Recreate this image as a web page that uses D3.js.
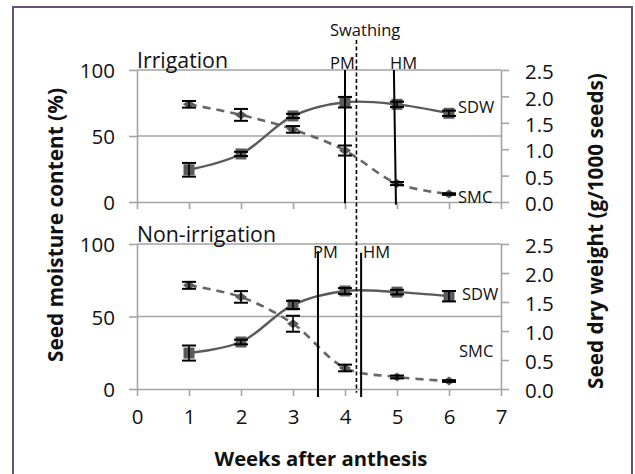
<!DOCTYPE html>
<html><head><meta charset="utf-8">
<script src="https://cdn.jsdelivr.net/npm/d3@7"></script>
<style>
html,body{margin:0;padding:0;background:#fff;}
svg{display:block;font-family:"Open Sans",sans-serif;}
</style></head>
<body><svg id="c" width="635" height="474"></svg>
<script>
// ---------- data ----------
const weeks = [1, 2, 3, 4, 5, 6];
const xTicks = [0, 1, 2, 3, 4, 5, 6, 7];
const leftTicks = [0, 50, 100];
const rightTicks = [0, 0.5, 1.0, 1.5, 2.0, 2.5];

const irrSMC    = [74, 66, 55, 39, 14, 6];
const irrSMCerr = [2.5, 4.5, 2.5, 3.8, 1.2, 0.6];
const irrSDW    = [0.61, 0.91, 1.63, 1.89, 1.85, 1.68];
const irrSDWerr = [0.13, 0.04, 0.04, 0.10, 0.05, 0.05];

const nonSMC    = [71.5, 63.5, 45, 14.5, 8.3, 5.5];
const nonSMCerr = [2.4, 4.0, 5.5, 2.3, 1.0, 0.6];
const nonSDW    = [0.62, 0.81, 1.45, 1.69, 1.67, 1.60];
const nonSDWerr = [0.13, 0.04, 0.07, 0.05, 0.04, 0.09];

const panelNames = ["Irrigation", "Non-irrigation"];
const irrPM = 4.0, irrHMtop = 4.94, irrHMbot = 4.98;
const nonPM = 3.48, nonHM = 4.31;
const swathing = 4.22;

// ---------- layout ----------
const svg = d3.select("#c");
const FONT = '"Open Sans", sans-serif';
const GRID = "#a3a3a3", SER = "#5a5a5a";

svg.append("rect").attr("x", 0).attr("y", 0).attr("width", 635).attr("height", 474).attr("fill", "#fff");
svg.append("rect").attr("x", 13).attr("y", 7).attr("width", 619).attr("height", 490)
  .attr("fill", "none").attr("stroke", "#62537a").attr("stroke-width", 2);

const x = d3.scaleLinear().domain([0, 7]).range([137, 501]);

function fit(sel, w) {
  let fs = parseFloat(sel.attr("font-size"));
  const len = sel.node().getComputedTextLength();
  sel.attr("font-size", (fs * w / len).toFixed(2));
  return sel;
}

const panels = [
  { name: panelNames[0], y0: 202, y1: 70, smc: irrSMC, smcE: irrSMCerr, sdw: irrSDW, sdwE: irrSDWerr, showX: false },
  { name: panelNames[1], y0: 389, y1: 244, smc: nonSMC, smcE: nonSMCerr, sdw: nonSDW, sdwE: nonSDWerr, showX: true }
];

panels.forEach(p => {
  const yL = d3.scaleLinear().domain([0, 100]).range([p.y0, p.y1]);
  const yR = d3.scaleLinear().domain([0, 2.5]).range([p.y0, p.y1]);
  p.yL = yL; p.yR = yR;
  const g = svg.append("g");

  g.selectAll(".grid").data([50, 100]).join("line")
    .attr("x1", x(0)).attr("x2", x(7)).attr("y1", d => yL(d)).attr("y2", d => yL(d))
    .attr("stroke", GRID).attr("stroke-width", 1.6);

  const ax = g.append("g").attr("transform", `translate(${x(0)},0)`)
    .call(d3.axisLeft(yL).tickValues(leftTicks).tickSize(8).tickSizeOuter(0).tickPadding(14));
  const ar = g.append("g").attr("transform", `translate(${x(7)},0)`)
    .call(d3.axisRight(yR).tickValues(rightTicks).tickSize(8).tickSizeOuter(0).tickPadding(16).tickFormat(d3.format(".1f")));
  const ab = g.append("g").attr("transform", `translate(0,${p.y0})`)
    .call(d3.axisBottom(x).tickValues(xTicks).tickSize(7).tickSizeOuter(0).tickPadding(16)
      .tickFormat(p.showX ? d3.format("d") : () => ""));
  [ax, ar, ab].forEach(a => {
    a.selectAll("path,line").attr("stroke", GRID).attr("stroke-width", 1.6);
    a.selectAll("text").attr("font-family", FONT).attr("font-size", 20.5).attr("fill", "#111");
  });
  ax.selectAll("text").attr("dy", "0.38em");
  ar.selectAll("text").attr("dy", "0.42em");
  ab.selectAll("text").attr("dy", "0.6em");

  const pts = weeks.map((w, i) => [x(w), yL(p.smc[i])]);
  g.append("path").attr("d", d3.line().curve(d3.curveCatmullRom.alpha(0.5))(pts))
    .attr("fill", "none").attr("stroke", "#666").attr("stroke-width", 2.6).attr("stroke-dasharray", "8,6");
  const pts2 = weeks.map((w, i) => [x(w), yR(p.sdw[i])]);
  g.append("path").attr("d", d3.line().curve(d3.curveCatmullRom.alpha(0.5))(pts2))
    .attr("fill", "none").attr("stroke", SER).attr("stroke-width", 2.4);

  g.selectAll(".dia").data(weeks).join("path")
    .attr("d", (w, i) => { const cx = x(w), cy = yL(p.smc[i]); return `M${cx - 6},${cy}L${cx},${cy - 4.5}L${cx + 6},${cy}L${cx},${cy + 4.5}Z`; })
    .attr("fill", SER);
  g.selectAll(".sq").data(weeks).join("rect")
    .attr("x", w => x(w) - 5.5).attr("y", (w, i) => yR(p.sdw[i]) - 5.5)
    .attr("width", 11).attr("height", 11).attr("fill", SER);

  function ebars(vals, errs, ys) {
    weeks.forEach((w, i) => {
      const cx = x(w), a = ys(vals[i] + errs[i]), b = ys(vals[i] - errs[i]);
      g.append("line").attr("x1", cx).attr("x2", cx).attr("y1", a).attr("y2", b).attr("stroke", "#000").attr("stroke-width", 1.6);
      [a, b].forEach(yy => g.append("line").attr("x1", cx - 7).attr("x2", cx + 7).attr("y1", yy).attr("y2", yy)
        .attr("stroke", "#000").attr("stroke-width", 2));
    });
  }
  ebars(p.smc, p.smcE, yL);
  ebars(p.sdw, p.sdwE, yR);

  const lbl = svg.append("text").attr("x", 137).attr("y", p.y1 - 2).attr("font-family", FONT)
    .attr("font-size", 20).attr("fill", "#111").text(p.name);
  fit(lbl, p.showX ? 139 : 91);
});

const pTop = panels[0], pBot = panels[1];
function vline(x1, y1, x2, y2) {
  svg.append("line").attr("x1", x1).attr("x2", x2).attr("y1", y1).attr("y2", y2)
    .attr("stroke", "#000").attr("stroke-width", 2);
}
vline(x(irrPM), pTop.yL(100), x(irrPM), pTop.yL(-1));
vline(x(irrHMtop), pTop.yL(100), x(irrHMbot), pTop.yL(-2));
vline(x(nonPM), pBot.yL(95), x(nonPM), pBot.yL(-5.5));
vline(x(nonHM), pBot.yL(94), x(nonHM), pBot.yL(-5.5));
svg.append("line").attr("x1", x(swathing)).attr("x2", x(swathing)).attr("y1", 40).attr("y2", pBot.yL(-2.5))
  .attr("stroke", "#000").attr("stroke-width", 1.6).attr("stroke-dasharray", "4,2.5");

function ann(txt, xx, yy) {
  return svg.append("text").attr("x", xx).attr("y", yy).attr("font-family", FONT).attr("font-size", 16.5)
    .attr("fill", "#111").text(txt);
}
ann("Swathing", 330, 36);
ann("PM", 330, 69);
ann("HM", 390, 69);
ann("SDW", 458, 113);
ann("SMC", 458, 203);
ann("PM", 313, 258);
ann("HM", 363, 258);
ann("SDW", 462, 300);
ann("SMC", 459, 357);

const lt = svg.append("text").attr("transform", "translate(63,225) rotate(-90)").attr("text-anchor", "middle")
  .attr("font-family", FONT).attr("font-weight", "bold").attr("font-size", 20).attr("fill", "#111")
  .text("Seed moisture content (%)");
fit(lt, 274);
const rt = svg.append("text").attr("transform", "translate(603,231) rotate(-90)").attr("text-anchor", "middle")
  .attr("font-family", FONT).attr("font-weight", "bold").attr("font-size", 20).attr("fill", "#111")
  .text("Seed dry weight (g/1000 seeds)");
fit(rt, 316);
const xt = svg.append("text").attr("x", 321).attr("y", 466).attr("text-anchor", "middle")
  .attr("font-family", FONT).attr("font-weight", "bold").attr("font-size", 20).attr("fill", "#111")
  .text("Weeks after anthesis");
fit(xt, 213);
</script></body></html>
